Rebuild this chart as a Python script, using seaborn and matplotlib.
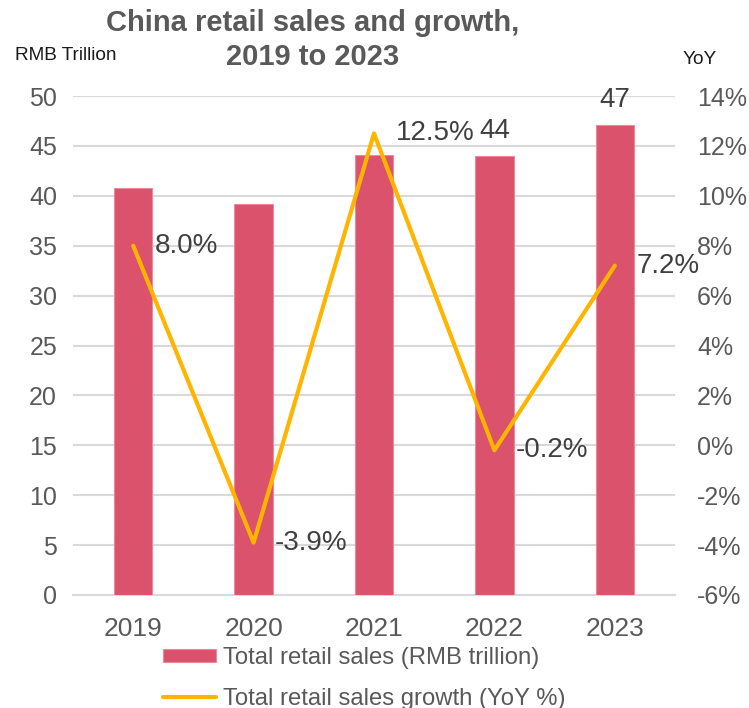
import matplotlib
matplotlib.use("Agg")
import matplotlib.pyplot as plt
import seaborn as sns
import pandas as pd
from matplotlib.patches import Patch
from matplotlib.lines import Line2D

# Data
years = ["2019", "2020", "2021", "2022", "2023"]
sales = [40.8, 39.2, 44.1, 44.0, 47.1]          # RMB trillion
growth = [8.0, -3.9, 12.5, -0.2, 7.2]           # YoY %
labelled_sales_years = ["2022", "2023"]

sales_ticks = list(range(0, 51, 5))
growth_ticks = list(range(-6, 15, 2))

# Styling
BAR = "#DA526B"
BAR_EDGE = "#E88A9A"
LINE = "#FFB400"
TICK_C = "#595959"
LABEL_C = "#404040"
GRID_C = "#D9D9D9"
GROWTH_LABEL_DX = 15.5                          # points, right of each point

sns.set_theme(style="white")
plt.rcParams["font.family"] = ["Liberation Sans", "DejaVu Sans"]

df = pd.DataFrame({"year": years, "sales": sales, "growth": growth})

W, H = 749, 708
fig = plt.figure(figsize=(W / 100, H / 100), dpi=100)
ax = fig.add_axes([73 / W, 1 - 595 / H, (675 - 73) / W, (595 - 96) / H])

sns.barplot(data=df, x="year", y="sales", color=BAR, saturation=1,
            width=0.32, edgecolor=BAR_EDGE, linewidth=0.8, ax=ax, zorder=3)
ax.set_xlim(-0.5, len(years) - 0.5)
ax.set_ylim(sales_ticks[0], sales_ticks[-1])
ax.set_yticks(sales_ticks)
ax.set_xlabel("")
ax.set_ylabel("")
ax.yaxis.grid(True, color=GRID_C, linewidth=1.5, zorder=0)
ax.set_axisbelow(True)
for side in ["left", "right", "top"]:
    ax.spines[side].set_visible(False)
ax.spines["bottom"].set_color(GRID_C)
ax.spines["bottom"].set_linewidth(1.5)
ax.tick_params(axis="y", length=0, pad=11.5, labelsize=18, labelcolor=TICK_C)
ax.tick_params(axis="x", length=0, pad=16, labelsize=19, labelcolor=TICK_C)

# Value labels above the last two bars
for i, (yr, v) in enumerate(zip(years, sales)):
    if yr in labelled_sales_years:
        ax.annotate(f"{v:.0f}", (i, v), xytext=(0, 8.5), textcoords="offset points",
                    ha="center", va="bottom", fontsize=20, color=LABEL_C)

# Growth line on the secondary axis
ax2 = ax.twinx()
sns.lineplot(x=df.index, y=df["growth"], color=LINE, linewidth=3, ax=ax2, zorder=4)
ax2.set_ylim(growth_ticks[0], growth_ticks[-1])
ax2.set_yticks(growth_ticks)
ax2.set_yticklabels([f"{t}%" for t in growth_ticks])
ax2.set_ylabel("")
for s in ax2.spines.values():
    s.set_visible(False)
ax2.tick_params(axis="y", length=0, pad=16, labelsize=18, labelcolor=TICK_C)
ax2.set_xlim(-0.5, len(years) - 0.5)

for i, g in enumerate(growth):
    ax2.annotate(f"{g:.1f}%", (i, g), xytext=(GROWTH_LABEL_DX, 0),
                 textcoords="offset points", ha="left", va="center",
                 fontsize=20, color=LABEL_C)

# Titles and axis captions
fig.text(313 / W, 1 - 40 / H, "China retail sales and growth,\n2019 to 2023",
         ha="center", va="center", fontsize=21, fontweight="bold",
         color=TICK_C, linespacing=1.25)
fig.text(15 / W, 1 - 55 / H, "RMB Trillion", ha="left", va="center",
         fontsize=13.7, color="#1A1A1A")
fig.text(683 / W, 1 - 60 / H, "YoY", ha="left", va="center",
         fontsize=13.7, color="#1A1A1A")

# Legend below the plot
handles = [Patch(facecolor=BAR, edgecolor=BAR_EDGE, linewidth=0.8),
           Line2D([0], [0], color=LINE, linewidth=3)]
fig.legend(handles, ["Total retail sales (RMB trillion)",
                     "Total retail sales growth (YoY %)"],
           loc="upper left", bbox_to_anchor=(163 / W, 1 - 647 / H),
           frameon=False, fontsize=17.2, handlelength=2.2, handleheight=0.5,
           handletextpad=0.3, labelspacing=0.8, borderpad=0,
           borderaxespad=0, labelcolor=TICK_C)

fig.savefig("out.png", dpi=100)
